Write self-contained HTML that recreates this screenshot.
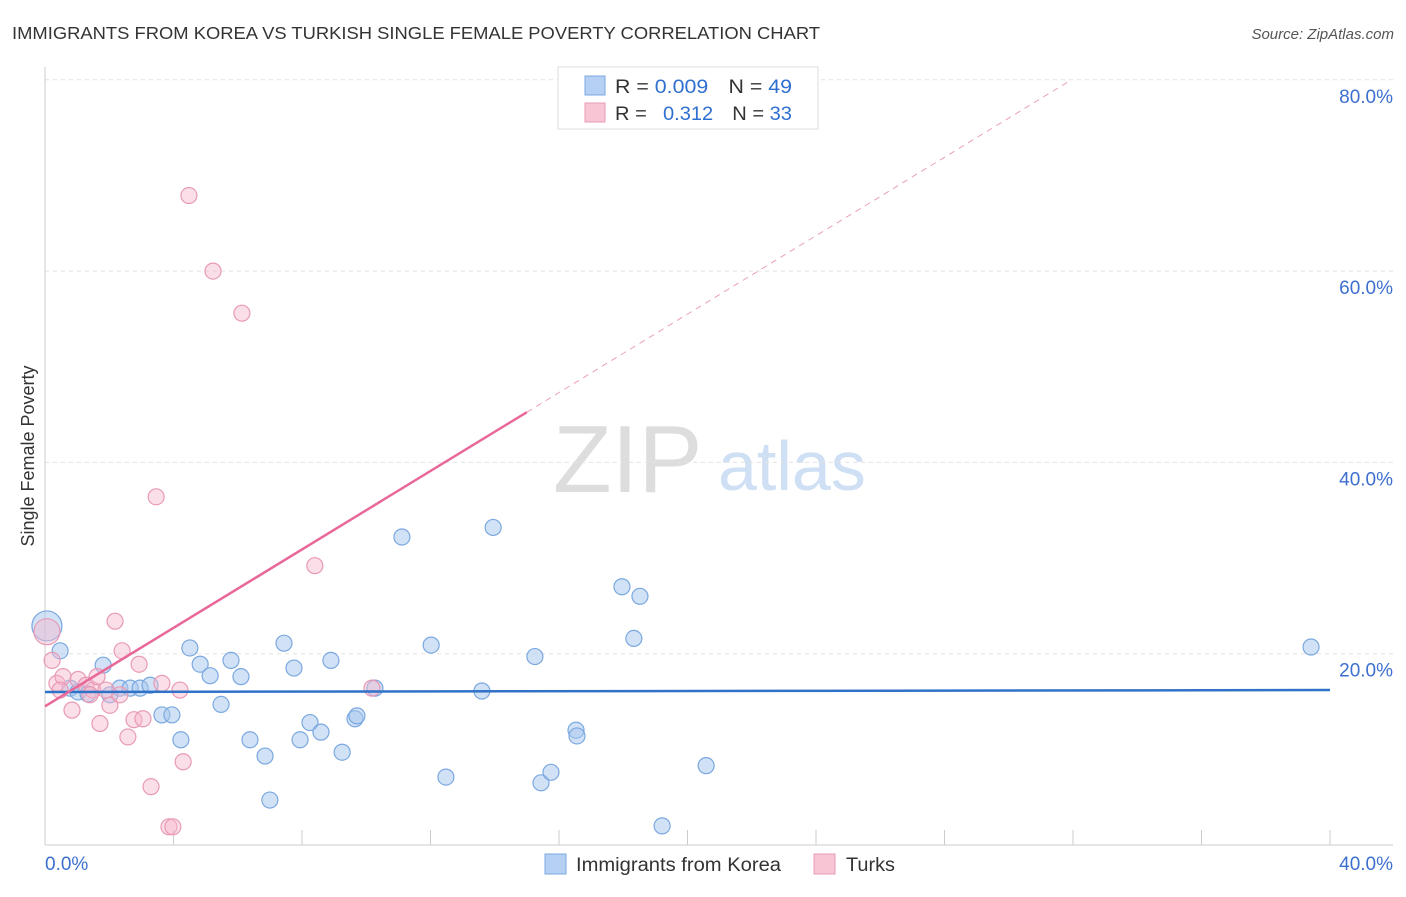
<!DOCTYPE html>
<html><head><meta charset="utf-8"><style>
body{margin:0;background:#fff;font-family:"Liberation Sans",sans-serif}
svg text{font-family:"Liberation Sans",sans-serif}
</style></head><body>
<svg id="chart" width="1406" height="892">
<text x="12" y="39" font-size="17.5" fill="#333" textLength="808" lengthAdjust="spacingAndGlyphs">IMMIGRANTS FROM KOREA VS TURKISH SINGLE FEMALE POVERTY CORRELATION CHART</text>
<text x="1394" y="39" font-size="15" fill="#555" font-style="italic" text-anchor="end">Source: ZipAtlas.com</text>
<g>
<text x="553" y="492" font-size="96" fill="#ddd" font-family="Liberation Serif">ZIP</text>
<text x="718" y="490" font-size="70" fill="#cfe0f5">atlas</text>
</g>
<g id="grid"></g><g id="axes"></g><g id="marks"></g>
<text transform="translate(34,456) rotate(-90)" font-size="18" fill="#333" text-anchor="middle">Single Female Poverty</text>
<g>
<rect x="558" y="67" width="260" height="62" fill="#fff" stroke="#ddd"/>
<rect x="585" y="76" width="20" height="19" fill="#b5d0f2" stroke="#7aa8e0"/>
<rect x="585" y="103" width="20" height="19" fill="#f8c5d5" stroke="#e89ab5"/>
<text x="615" y="93" font-size="19" fill="#333" textLength="177" lengthAdjust="spacingAndGlyphs">R = <tspan fill="#2f6fd0">0.009</tspan><tspan dx="18">N = </tspan><tspan fill="#2f6fd0">49</tspan></text>
<text x="615" y="120" font-size="19" fill="#333" textLength="177" lengthAdjust="spacingAndGlyphs">R = <tspan fill="#2f6fd0" dx="10">0.312</tspan><tspan dx="18">N = </tspan><tspan fill="#2f6fd0">33</tspan></text>
</g>
<g>
<rect x="545" y="854" width="21" height="20" fill="#b5d0f2" stroke="#7aa8e0"/>
<text x="576" y="871" font-size="19" fill="#333" textLength="205" lengthAdjust="spacingAndGlyphs">Immigrants from Korea</text>
<rect x="814" y="854" width="21" height="20" fill="#f8c5d5" stroke="#e89ab5"/>
<text x="846" y="871" font-size="19" fill="#333" textLength="49" lengthAdjust="spacingAndGlyphs">Turks</text>
</g>
</svg>
<script>
const yTicks=[20,40,60,80];
const yTickLabels=["20.0%","40.0%","60.0%","80.0%"];
const xTicks=[0,4,8,12,16,20,24,28,32,36,40];
const blueX=[0.06,0.47,0.78,1.03,1.34,1.81,2.02,2.33,2.65,2.96,3.27,3.64,3.95,4.23,4.51,4.83,5.14,5.48,5.79,6.10,6.38,6.85,7.00,7.44,7.75,7.94,8.25,8.59,8.90,9.25,9.65,9.71,10.27,11.11,12.02,12.48,13.60,13.95,15.25,15.44,15.75,16.53,16.56,17.96,18.33,18.52,19.21,20.58,39.41];
const blueY=[22.9,20.3,16.4,16.0,15.8,18.8,15.7,16.4,16.4,16.4,16.7,13.6,13.6,11.0,20.6,18.9,17.7,14.7,19.3,17.6,11.0,9.3,4.7,21.1,18.5,11.0,12.8,11.8,19.3,9.7,13.2,13.5,16.4,32.2,20.9,7.1,16.1,33.2,19.7,6.5,7.6,12.0,11.4,27.0,21.6,26.0,2.0,8.3,20.7];
const pinkX=[0.06,0.22,0.37,0.56,0.84,1.03,1.28,1.49,1.62,1.71,1.90,2.02,2.18,2.40,2.58,2.77,2.93,3.05,3.30,3.46,3.64,3.86,3.98,4.20,4.30,4.48,5.23,6.13,8.40,10.18,0.47,1.40,2.33];
const pinkY=[22.3,19.3,16.9,17.6,14.1,17.3,16.7,16.2,17.6,12.7,16.2,14.6,23.4,20.3,11.3,13.1,18.9,13.2,6.1,36.4,16.9,1.9,1.9,16.2,8.7,67.9,60.0,55.6,29.2,16.4,16.2,15.7,15.7];
const blueTrend=[16.0,16.2];
const pinkTrend=[14.5,2.05];
const X0=45,X1=1330,Y0=845,YPX=191.3/20;
const xs=v=>X0+(X1-X0)*v/40, ys=v=>Y0-v*YPX;
const NS="http://www.w3.org/2000/svg";
function mk(p,t,a){const e=document.createElementNS(NS,t);for(const k in a)e.setAttribute(k,a[k]);p.appendChild(e);return e;}
const grid=document.getElementById('grid'),axes=document.getElementById('axes'),marks=document.getElementById('marks');
yTicks.forEach((t,i)=>{
 const l=mk(grid,'line',{x1:45,x2:1393,y1:ys(t),y2:ys(t),stroke:'#e2e2e2','stroke-dasharray':'4,4'});
 
 
 const tx=mk(axes,'text',{x:1393,y:ys(t)+23,'font-size':19,fill:'#3d6fcf','text-anchor':'end'});
 tx.textContent=yTickLabels[i];
 
 
});
let a=mk(axes,'line',{x1:45,x2:45,y1:67,y2:845,stroke:'#ccc'});


a=mk(axes,'line',{x1:45,x2:1393,y1:845,y2:845,stroke:'#ccc'});


xTicks.forEach(t=>{const l=mk(axes,'line',{x1:xs(t),x2:xs(t),y1:830,y2:845,stroke:'#ccc'});
 
 });
let t1=mk(axes,'text',{x:45,y:870,'font-size':19,fill:'#3d6fcf'});t1.textContent='0.0%';


let t2=mk(axes,'text',{x:1393,y:870,'font-size':19,fill:'#3d6fcf','text-anchor':'end'});t2.textContent='40.0%';


blueX.forEach((x,i)=>{const big=i===0;const c=mk(marks,'circle',{cx:xs(x),cy:ys(blueY[i]),r:big?15:8,fill:'rgba(165,198,238,0.5)',stroke:'#7aa8e0','stroke-width':1.2});
 
 });
pinkX.forEach((x,i)=>{const big=i===0;const c=mk(marks,'circle',{cx:xs(x),cy:ys(pinkY[i]),r:big?13:8,fill:'rgba(247,185,205,0.45)',stroke:'#e89ab5','stroke-width':1.2});
 
 });
let bl=mk(marks,'line',{x1:xs(0),x2:xs(40),y1:ys(blueTrend[0]),y2:ys(blueTrend[1]),stroke:'#2f72c8','stroke-width':2.5});


const pv=x=>pinkTrend[0]+pinkTrend[1]*x;
let pl=mk(marks,'line',{x1:xs(0),x2:xs(15),y1:ys(pv(0)),y2:ys(pv(15)),stroke:'#e8689a','stroke-width':2.5});


const xe=(80-pinkTrend[0])/pinkTrend[1];
let pd=mk(marks,'line',{x1:xs(15),x2:xs(xe),y1:ys(pv(15)),y2:ys(pv(xe)),stroke:'#eaa0bb','stroke-width':1,'stroke-dasharray':'6,5'});


</script>
</body></html>
